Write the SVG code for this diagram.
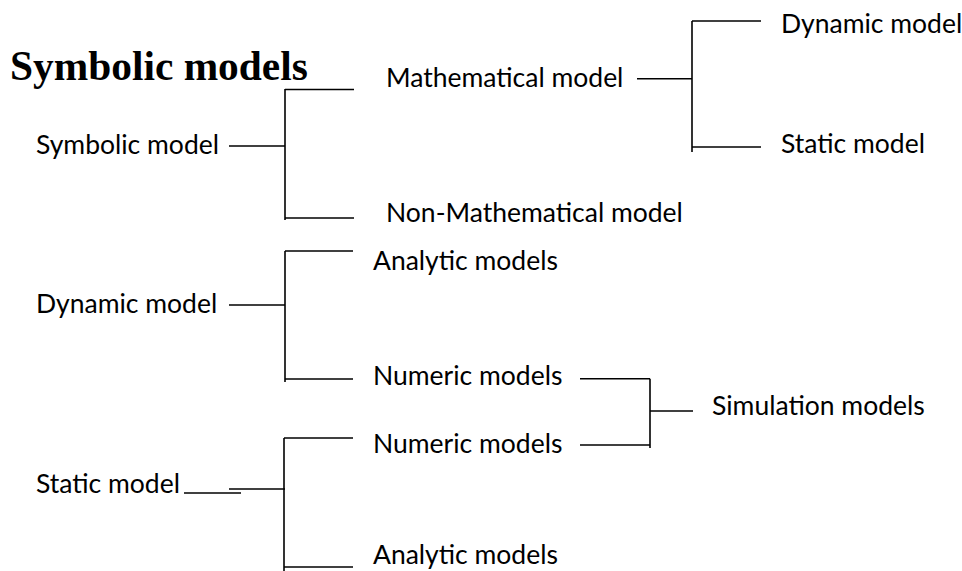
<svg xmlns="http://www.w3.org/2000/svg" width="962" height="571" viewBox="0 0 962 571">
<style>
.t{font-family:Lato,"Liberation Sans",sans-serif;font-size:26.5px;fill:#000}
.h{font-family:"Liberation Serif","Times New Roman",serif;font-weight:bold;font-size:41.4px;fill:#000}
.c line{stroke:#000;stroke-width:1.6;fill:none}
</style>
<rect width="962" height="571" fill="#fff"/>
<text class="h" x="10" y="80">Symbolic models</text>
<g id="n-symbolic"><text class="t" x="36" y="154">Symbolic model</text></g>
<g id="n-math"><text class="t" x="386" y="87">Mathematical model</text></g>
<g id="n-nonmath"><text class="t" x="386" y="222">Non-Mathematical model</text></g>
<g id="n-dyn1"><text class="t" x="781" y="33">Dynamic model</text></g>
<g id="n-stat1"><text class="t" x="781" y="153">Static model</text></g>
<g id="n-dyn2"><text class="t" x="36" y="313">Dynamic model</text></g>
<g id="n-analytic1"><text class="t" x="373" y="270">Analytic models</text></g>
<g id="n-numeric1"><text class="t" x="373" y="385">Numeric models</text></g>
<g id="n-numeric2"><text class="t" x="373" y="453">Numeric models</text></g>
<g id="n-sim"><text class="t" x="712" y="415">Simulation models</text></g>
<g id="n-stat2"><text class="t" x="36" y="493">Static model</text></g>
<g id="n-analytic2"><text class="t" x="373" y="564">Analytic models</text></g>
<g class="c" id="connectors">
<line x1="229" y1="146" x2="285" y2="146"/>
<line x1="285" y1="89" x2="285" y2="220"/>
<line x1="285" y1="89.5" x2="354" y2="89.5"/>
<line x1="285" y1="218" x2="354" y2="218"/>
<line x1="637" y1="78.7" x2="692" y2="78.7"/>
<line x1="692" y1="21" x2="692" y2="152"/>
<line x1="692" y1="21" x2="761" y2="21"/>
<line x1="692" y1="147" x2="761" y2="147"/>
<line x1="229" y1="305" x2="285" y2="305"/>
<line x1="285" y1="251" x2="285" y2="382"/>
<line x1="285" y1="251" x2="353" y2="251"/>
<line x1="285" y1="379" x2="353" y2="379"/>
<line x1="580" y1="378.7" x2="650" y2="378.7"/>
<line x1="650" y1="378.7" x2="650" y2="448"/>
<line x1="580" y1="445" x2="650" y2="445"/>
<line x1="650" y1="411" x2="693" y2="411"/>
<line x1="184" y1="493" x2="241" y2="493"/>
<line x1="229" y1="489" x2="285" y2="489"/>
<line x1="284" y1="438" x2="284" y2="571"/>
<line x1="284" y1="438" x2="353" y2="438"/>
<line x1="284" y1="567" x2="353" y2="567"/>
</g>
</svg>
